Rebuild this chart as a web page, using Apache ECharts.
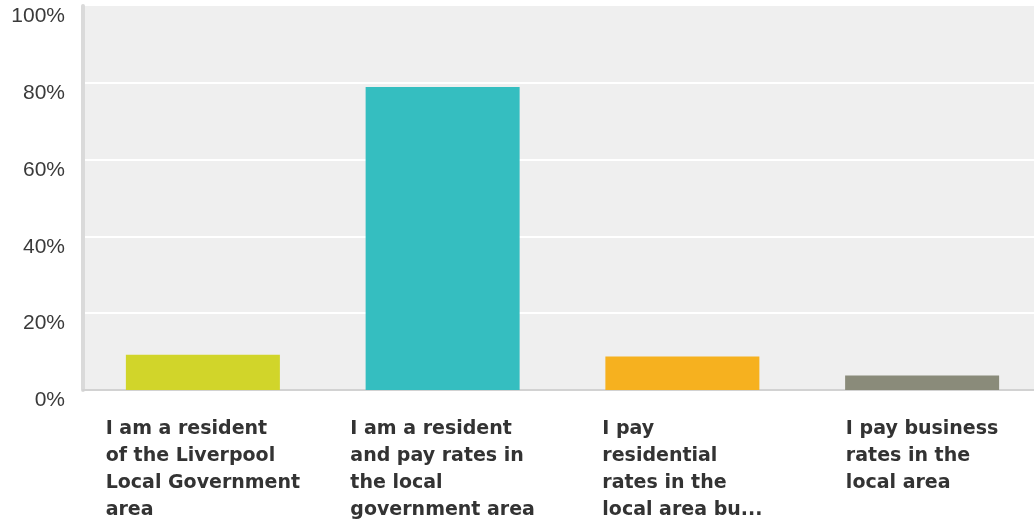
<!DOCTYPE html>
<html>
<head>
<meta charset="utf-8">
<script src="https://cdn.jsdelivr.net/npm/echarts@6/dist/echarts.min.js"></script>
<style>
html,body{margin:0;padding:0;background:#fff;overflow:hidden;}
#chart{width:1034px;height:525px;}
</style>
</head>
<body>
<div id="chart"></div>
<script>
const categories = [
  "I am a resident\nof the Liverpool\nLocal Government\narea",
  "I am a resident\nand pay rates in\nthe local\ngovernment area",
  "I pay\nresidential\nrates in the\nlocal area bu...",
  "I pay business\nrates in the\nlocal area"
];
const values = [9.2, 78.9, 8.7, 3.8];
const barColors = ['#d1d52a', '#35bec0', '#f6b11f', '#8a8b7a'];
const yTicks = [0, 20, 40, 60, 80, 100];

const chart = echarts.init(document.getElementById('chart'), null, {renderer: 'canvas'});
chart.setOption({
  animation: false,
  backgroundColor: '#ffffff',
  grid: {
    left: 83, width: 959, top: 6, height: 384,
    outerBoundsMode: 'none',
    containLabel: false,
    show: true, backgroundColor: '#efefef', borderWidth: 0
  },
  xAxis: {
    type: 'category',
    data: categories,
    axisTick: {show: false},
    axisLine: {show: true, lineStyle: {color: '#d2d2d2', width: 2}},
    axisLabel: {
      interval: 0,
      margin: 25,
      align: 'center',
      formatter: function (v) {
        return v.split('\n').map(function (l) { return '{l|' + l + '}'; }).join('\n');
      },
      rich: {
        l: {
          align: 'left',
          fontFamily: 'DejaVu Sans, sans-serif',
          fontWeight: 'bold',
          fontSize: 19,
          lineHeight: 27.3,
          color: '#333333'
        }
      }
    }
  },
  yAxis: {
    type: 'value',
    min: yTicks[0],
    max: yTicks[yTicks.length - 1],
    interval: 20,
    axisLine: {show: true, lineStyle: {color: '#dadada', width: 4}},
    axisTick: {show: false},
    splitLine: {show: true, showMaxLine: false, showMinLine: false, lineStyle: {color: '#ffffff', width: 2}},
    axisLabel: {
      margin: 18,
      verticalAlign: 'top',
      fontFamily: '"Liberation Sans", Arial, sans-serif',
      fontSize: 21,
      lineHeight: 21,
      color: '#3a3a3a',
      formatter: function (v) { return v + '%'; }
    }
  },
  series: [{
    type: 'bar',
    barWidth: 154,
    data: values.map(function (v, i) { return {value: v, itemStyle: {color: barColors[i]}}; })
  }]
});
</script>
</body>
</html>
